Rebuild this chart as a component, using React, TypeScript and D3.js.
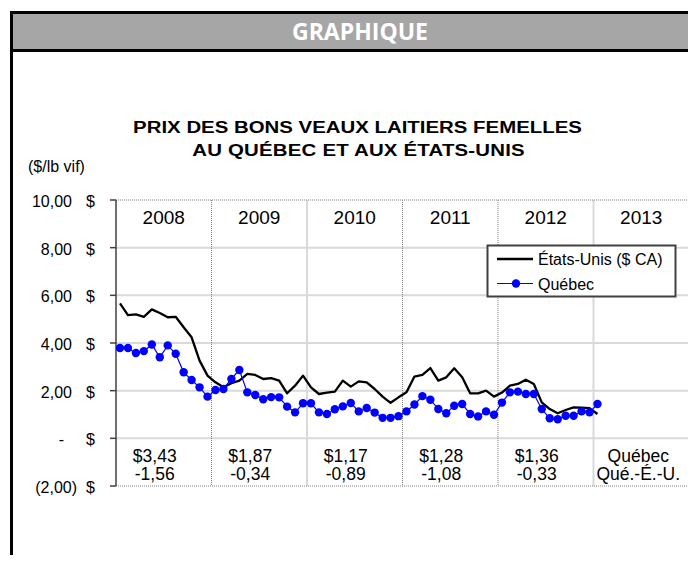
import { line, scaleLinear } from "d3";

const years = ["2008", "2009", "2010", "2011", "2012", "2013"];
// monthly prices, Jan 2008 -> Jan 2013 ($/lb vif)
const quebec = [
  3.79, 3.79, 3.58, 3.66, 3.94, 3.4, 3.9, 3.55, 2.77, 2.45, 2.14, 1.75,
  2.03, 2.07, 2.49, 2.87, 1.93, 1.82, 1.64, 1.73, 1.72, 1.33, 1.09, 1.47,
  1.47, 1.09, 1.02, 1.22, 1.34, 1.48, 1.13, 1.27, 1.08, 0.86, 0.86, 0.93,
  1.13, 1.42, 1.77, 1.62, 1.23, 1.05, 1.37, 1.44, 1.02, 0.92, 1.13, 0.99,
  1.5, 1.93, 1.96, 1.86, 1.86, 1.23, 0.84, 0.8, 0.95, 0.95, 1.13, 1.09,
  1.44,
];
const etatsUnis = [
  5.66, 5.17, 5.2, 5.1, 5.41, 5.26, 5.08, 5.1, 4.66, 4.24, 3.26, 2.63,
  2.35, 2.14, 2.31, 2.42, 2.7, 2.66, 2.49, 2.53, 2.42, 1.89, 2.21, 2.63,
  2.14, 1.86, 1.92, 1.96, 2.42, 2.17, 2.39, 2.35, 2.07, 1.75, 1.49, 1.72,
  1.93, 2.59, 2.66, 2.95, 2.42, 2.56, 2.94, 2.56, 1.89, 1.89, 2.0, 1.75,
  1.92, 2.21, 2.28, 2.46, 2.28, 1.51, 1.23, 1.05, 1.19, 1.3, 1.29, 1.27,
  1.02,
];
const yTicks = [10, 8, 6, 4, 2, 0, -2];
const yTickLabels = ["10,00", "8,00", "6,00", "4,00", "2,00", "-", "(2,00)"];
const avgQuebec = ["$3,43", "$1,87", "$1,17", "$1,28", "$1,36", "Québec"];
const ecartQcEU = ["-1,56", "-0,34", "-0,89", "-1,08", "-0,33", "Qué.-É.-U."];

const FONT = "'Liberation Sans', Arial, sans-serif";

const App = () => {
  const width = 696;
  const height = 563;
  const plot = { left: 116, right: 689, top: 200, bottom: 486 };

  const x = scaleLinear().domain([0, 72]).range([plot.left, plot.right]);
  const y = scaleLinear().domain([-2, 10]).range([plot.bottom, plot.top]);

  const monthLine = line<number>()
    .x((_, i) => x(i + 0.5))
    .y((d) => y(d));

  const dottedYears = [12, 36, 48, 72];
  const solidYears = [24, 60];

  return (
    <div style={{ margin: -8 }}>
      <svg width={width} height={height} style={{ display: "block" }}>
        <rect x={0} y={0} width={width} height={height} fill="#fff" />
        {/* frame + header */}
        <rect x={10} y={11} width={3} height={height - 11} fill="#000" />
        <rect x={10} y={11} width={width - 10} height={41} fill="#000" />
        <rect x={13} y={14} width={width - 13} height={35} fill="#a6a6a6" />
        <text
          x={360}
          y={40}
          textAnchor="middle"
          fill="#fff"
          fontFamily="'Open Sans', sans-serif"
          fontWeight="bold"
          fontSize={23}
        >
          GRAPHIQUE
        </text>

        {/* title */}
        <g fontFamily={FONT} fontWeight="bold" fontSize={17} fill="#000">
          <g transform="translate(357.5,133) scale(1.2,1)">
            <text x={0} y={0} textAnchor="middle" textLength={374} lengthAdjust="spacing">
              PRIX DES BONS VEAUX LAITIERS FEMELLES
            </text>
          </g>
          <g transform="translate(358.5,156) scale(1.2,1)">
            <text x={0} y={0} textAnchor="middle" textLength={277} lengthAdjust="spacing">
              AU QUÉBEC ET AUX ÉTATS-UNIS
            </text>
          </g>
        </g>
        <text x={28} y={172} fontFamily={FONT} fontSize={16}>
          ($/lb vif)
        </text>

        {/* horizontal grid */}
        {yTicks
          .filter((t) => t > -2 && t < 10)
          .map((t) => (
            <line
              key={t}
              x1={plot.left}
              x2={plot.right}
              y1={y(t)}
              y2={y(t)}
              stroke="#d9d9d9"
              strokeWidth={2}
            />
          ))}
        {solidYears.map((m) => (
          <line
            key={m}
            x1={x(m)}
            x2={x(m)}
            y1={plot.top}
            y2={plot.bottom}
            stroke="#d9d9d9"
            strokeWidth={2}
          />
        ))}
        {dottedYears.map((m) => (
          <line
            key={m}
            x1={x(m)}
            x2={x(m)}
            y1={plot.top}
            y2={plot.bottom}
            stroke="#808080"
            strokeWidth={1}
            strokeDasharray="1,1"
          />
        ))}
        {[10, -2].map((t) => (
          <line
            key={t}
            x1={plot.left}
            x2={plot.right}
            y1={y(t)}
            y2={y(t)}
            stroke="#808080"
            strokeWidth={1}
            strokeDasharray="1,1"
          />
        ))}

        {/* y axis */}
        <line
          x1={plot.left}
          x2={plot.left}
          y1={plot.top}
          y2={plot.bottom}
          stroke="#404040"
          strokeWidth={1.5}
        />
        <g fontFamily={FONT} fontSize={16} fill="#000">
          {yTicks.map((t, i) => (
            <g key={t}>
              <line
                x1={plot.left - 6}
                x2={plot.left}
                y1={y(t)}
                y2={y(t)}
                stroke="#404040"
                strokeWidth={1.5}
              />
              <text
                x={t === 0 ? 64 : t < 0 ? 77 : 72}
                y={y(t) + 7}
                textAnchor="end"
              >
                {yTickLabels[i]}
              </text>
              <text x={95} y={y(t) + 7} textAnchor="end">
                $
              </text>
            </g>
          ))}
        </g>

        {/* year labels and annotations */}
        <g fontFamily={FONT} fill="#000" textAnchor="middle">
          {years.map((yr, i) => {
            const cx = x(i * 12 + 6);
            const off = i === 5 ? -3 : -9;
            return (
              <g key={yr}>
                <text x={cx} y={224} fontSize={19}>
                  {yr}
                </text>
                <text x={cx + off} y={461.5} fontSize={17.5}>
                  {avgQuebec[i]}
                </text>
                <text x={cx + off} y={480} fontSize={17.5}>
                  {ecartQcEU[i]}
                </text>
              </g>
            );
          })}
        </g>

        {/* series */}
        <path
          d={monthLine(etatsUnis) ?? ""}
          fill="none"
          stroke="#000"
          strokeWidth={2.3}
          strokeLinejoin="round"
        />
        <path
          d={monthLine(quebec) ?? ""}
          fill="none"
          stroke="#0000ff"
          strokeWidth={1.2}
        />
        {quebec.map((d, i) => (
          <circle key={i} cx={x(i + 0.5)} cy={y(d)} r={4.2} fill="#0000ff" />
        ))}

        {/* legend */}
        <g fontFamily={FONT} fontSize={16} fill="#000">
          <rect
            x={487.5}
            y={245.5}
            width={188}
            height={51}
            fill="#fff"
            stroke="#404040"
            strokeWidth={2}
          />
          <line x1={497} x2={533} y1={259} y2={259} stroke="#000" strokeWidth={2.5} />
          <text x={538} y={265}>
            États-Unis ($ CA)
          </text>
          <line x1={497} x2={533} y1={283.5} y2={283.5} stroke="#0000ff" strokeWidth={1.2} />
          <circle cx={516} cy={283.5} r={4.2} fill="#0000ff" />
          <text x={538} y={289.5}>
            Québec
          </text>
        </g>
      </svg>
    </div>
  );
};

export default App;
